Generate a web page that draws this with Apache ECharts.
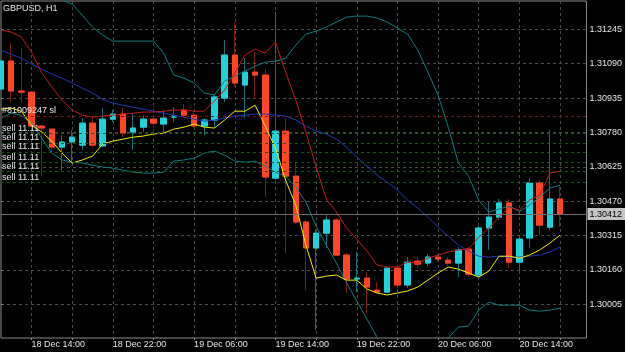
<!DOCTYPE html>
<html>
<head>
<meta charset="utf-8">
<title>GBPUSD, H1</title>
<script src="https://cdn.jsdelivr.net/npm/echarts@6.0.0/dist/echarts.min.js"></script>
<style>
  html, body { margin: 0; padding: 0; background: #000; }
  #chart { width: 625px; height: 352px; }
</style>
</head>
<body>
<div id="chart"></div>
<script>
// H1 bars, index 0 = 18 Dec 11:00 ... index 55 = 20 Dec 18:00
const opens = [1.30976, 1.31102, 1.30967, 1.30962, 1.30809, 1.30795, 1.30714, 1.30737, 1.30723, 1.30822,
  1.30719, 1.30840, 1.30863, 1.30782, 1.30804, 1.30840, 1.30818, 1.30849, 1.30881, 1.30858,
  1.30809, 1.30836, 1.30935, 1.31129, 1.30994, 1.31052, 1.31039, 1.30574, 1.30786, 1.30583,
  1.30376, 1.30259, 1.30326, 1.30385, 1.30227, 1.30119, 1.30123, 1.30069, 1.30060, 1.30168,
  1.30092, 1.30200, 1.30191, 1.30218, 1.30204, 1.30191, 1.30254, 1.30137, 1.30349, 1.30398,
  1.30462, 1.30195, 1.30304, 1.30552, 1.30353, 1.30480];
const closes = [1.31102, 1.30967, 1.30962, 1.30809, 1.30800, 1.30714, 1.30737, 1.30759, 1.30822, 1.30723,
  1.30840, 1.30863, 1.30777, 1.30800, 1.30840, 1.30822, 1.30845, 1.30854, 1.30858, 1.30809,
  1.30836, 1.30940, 1.31129, 1.31003, 1.31052, 1.31039, 1.30579, 1.30786, 1.30583, 1.30376,
  1.30259, 1.30326, 1.30385, 1.30227, 1.30119, 1.30123, 1.30083, 1.30060, 1.30168, 1.30092,
  1.30195, 1.30186, 1.30218, 1.30209, 1.30191, 1.30250, 1.30141, 1.30349, 1.30398, 1.30462,
  1.30195, 1.30299, 1.30552, 1.30362, 1.30480, 1.30412];
const lows = [1.30971, 1.30917, 1.30913, 1.30782, 1.30583, 1.30692, 1.30610, 1.30642, 1.30701, 1.30714,
  1.30714, 1.30827, 1.30759, 1.30701, 1.30782, 1.30777, 1.30782, 1.30827, 1.30849, 1.30800,
  1.30768, 1.30800, 1.30917, 1.30985, 1.30845, 1.30935, 1.30489, 1.30565, 1.30236, 1.30367,
  1.30069, 1.29889, 1.30259, 1.30222, 1.30056, 1.30060, 1.29965, 1.30056, 1.30056, 1.30078,
  1.30078, 1.30168, 1.30177, 1.30195, 1.30177, 1.30128, 1.30132, 1.30128, 1.30250, 1.30385,
  1.30168, 1.30159, 1.30259, 1.30317, 1.30340, 1.30353];
const highs = [1.31106, 1.31183, 1.31161, 1.30967, 1.30813, 1.30800, 1.30768, 1.30791, 1.30845, 1.30849,
  1.30890, 1.30881, 1.30890, 1.30867, 1.30858, 1.30858, 1.30881, 1.30894, 1.30908, 1.30867,
  1.30845, 1.30949, 1.31197, 1.31278, 1.31115, 1.31143, 1.31066, 1.31323, 1.30845, 1.30646,
  1.30385, 1.30344, 1.30407, 1.30394, 1.30236, 1.30241, 1.30150, 1.30105, 1.30177, 1.30182,
  1.30218, 1.30222, 1.30232, 1.30232, 1.30218, 1.30263, 1.30263, 1.30358, 1.30466, 1.30480,
  1.30480, 1.30313, 1.30574, 1.30565, 1.30791, 1.30538];

// indicators
const maRed = [1.31242, 1.31233, 1.31210, 1.31143, 1.31048, 1.30985, 1.30926, 1.30881, 1.30858, 1.30849,
  1.30854, 1.30858, 1.30863, 1.30867, 1.30872, 1.30872, 1.30876, 1.30881, 1.30881, 1.30876,
  1.30876, 1.30922, 1.30971, 1.31048, 1.31129, 1.31156, 1.31138, 1.31188, 1.31052, 1.30926,
  1.30782, 1.30624, 1.30480, 1.30421, 1.30349, 1.30299, 1.30245, 1.30182, 1.30173, 1.30173,
  1.30195, 1.30191, 1.30213, 1.30227, 1.30241, 1.30250, 1.30254, 1.30308, 1.30349, 1.30398,
  1.30443, 1.30430, 1.30475, 1.30498, 1.30597, 1.30606];
const bbMiddle = [1.31151, 1.31133, 1.31115, 1.31088, 1.31066, 1.31043, 1.31025, 1.31003, 1.30980, 1.30958,
  1.30930, 1.30913, 1.30903, 1.30894, 1.30885, 1.30876, 1.30867, 1.30858, 1.30849, 1.30840,
  1.30831, 1.30836, 1.30845, 1.30854, 1.30858, 1.30863, 1.30863, 1.30858, 1.30854, 1.30836,
  1.30809, 1.30786, 1.30773, 1.30750, 1.30714, 1.30669, 1.30628, 1.30588, 1.30556, 1.30520,
  1.30475, 1.30439, 1.30398, 1.30353, 1.30313, 1.30272, 1.30245, 1.30222, 1.30218, 1.30222,
  1.30218, 1.30218, 1.30222, 1.30227, 1.30241, 1.30263];
const bbUpper = [1.31440, 1.31436, 1.31431, 1.31422, 1.31413, 1.31400, 1.31377, 1.31359, 1.31309, 1.31255,
  1.31219, 1.31192, 1.31192, 1.31192, 1.31192, 1.31192, 1.31138, 1.31039, 1.31025, 1.31003,
  1.30958, 1.30949, 1.31012, 1.31034, 1.31057, 1.31079, 1.31097, 1.31102, 1.31115, 1.31174,
  1.31224, 1.31237, 1.31255, 1.31278, 1.31300, 1.31305, 1.31305, 1.31296, 1.31278, 1.31251,
  1.31224, 1.31152, 1.31052, 1.30949, 1.30804, 1.30642, 1.30583, 1.30475, 1.30421, 1.30434,
  1.30448, 1.30425, 1.30452, 1.30489, 1.30529, 1.30543];
const bbLower = [1.30845, 1.30867, 1.30858, 1.30822, 1.30755, 1.30687, 1.30656, 1.30646, 1.30642, 1.30633,
  1.30624, 1.30619, 1.30610, 1.30601, 1.30597, 1.30597, 1.30601, 1.30651, 1.30656, 1.30664,
  1.30687, 1.30696, 1.30678, 1.30651, 1.30646, 1.30651, 1.30628, 1.30601, 1.30583, 1.30534,
  1.30466, 1.30358, 1.30272, 1.30191, 1.30101, 1.30020, 1.29938, 1.29857, 1.29790, 1.29753,
  1.29735, 1.29744, 1.29762, 1.29799, 1.29853, 1.29902, 1.29907, 1.29979, 1.30015, 1.30001,
  1.30001, 1.30001, 1.29979, 1.29974, 1.29979, 1.29988];
const maYellow = [1.30885, 1.30890, 1.30876, 1.30813, 1.30782, 1.30741, 1.30687, 1.30642, 1.30656, 1.30673,
  1.30728, 1.30741, 1.30750, 1.30759, 1.30764, 1.30773, 1.30777, 1.30795, 1.30804, 1.30818,
  1.30804, 1.30800, 1.30836, 1.30876, 1.30876, 1.30903, 1.30809, 1.30710, 1.30565, 1.30452,
  1.30272, 1.30123, 1.30132, 1.30137, 1.30114, 1.30114, 1.30074, 1.30056, 1.30047, 1.30056,
  1.30065, 1.30083, 1.30114, 1.30146, 1.30173, 1.30164, 1.30146, 1.30128, 1.30155, 1.30222,
  1.30222, 1.30213, 1.30227, 1.30250, 1.30281, 1.30317];

// axes
const priceTicks = [1.30005, 1.30160, 1.30315, 1.30470, 1.30625, 1.30780, 1.30935, 1.31090, 1.31245];
const gridBars = [3, 7, 11, 15, 19, 23, 27, 31, 35, 39, 43, 47, 51, 55];
const labelBars = [3, 11, 19, 27, 35, 43, 51];
const timeLabels = ['18 Dec 14:00', '18 Dec 22:00', '19 Dec 06:00', '19 Dec 14:00',
  '19 Dec 22:00', '20 Dec 06:00', '20 Dec 14:00'];

// order lines
const slPrice = 1.30854;
const sellPrices = [1.30775, 1.30733, 1.30693, 1.30644, 1.30603, 1.30554];
const lastPrice = 1.30412;

const FONT = '"Liberation Sans", Arial, sans-serif';
const TXT = '#e6e6e6';

let myChart = echarts.init(document.getElementById('chart'));

const wicks = opens.map((o, i) => [i, o, closes[i], lows[i], highs[i]]);
const bodies = opens.map((o, i) => [i, o, closes[i], Math.min(o, closes[i]), Math.max(o, closes[i])]);

function lineSeries(name, arr, color) {
  return {
    name: name,
    type: 'line',
    data: arr.map((v, i) => [i, v]),
    showSymbol: false,
    symbol: 'none',
    lineStyle: { color: color, width: 1 },
    silent: true
  };
}

const orderLines = [
  {
    yAxis: slPrice,
    lineStyle: { color: '#8c0c0c', type: [3, 3], width: 1 },
    label: { show: true, position: 'insideStartTop', formatter: '#81009247 sl', distance: [1, 1] }
  }
].concat(sellPrices.map(p => ({
  yAxis: p,
  lineStyle: { color: '#0d5c0d', type: [3, 3], width: 1 },
  label: { show: true, position: 'insideStartTop', formatter: 'sell 11.11', distance: [1, 1] }
}))).concat([{
  yAxis: lastPrice,
  lineStyle: { color: '#707070', type: 'solid', width: 1 },
  label: {
    show: true, position: 'end', distance: 1,
    formatter: () => lastPrice.toFixed(5),
    color: '#000', backgroundColor: '#c4c4c4', padding: [2, 3, 1, 2]
  }
}]);

let option = {
  backgroundColor: '#000',
  animation: false,
  title: {
    text: 'GBPUSD, H1',
    left: 3, top: 4, padding: 0,
    textStyle: { color: TXT, fontSize: 9, fontWeight: 'normal', fontFamily: FONT }
  },
  grid: {
    left: 1, top: 1, right: 36, bottom: 14,
    show: true, borderColor: '#8a8a8a', borderWidth: 1, backgroundColor: 'transparent'
  },
  xAxis: {
    type: 'value',
    min: 0,
    max: 57.6,
    axisLine: { show: false },
    axisTick: { show: true, length: 2, customValues: gridBars, lineStyle: { color: '#8a8a8a' } },
    axisLabel: {
      customValues: labelBars,
      formatter: v => timeLabels[labelBars.indexOf(Math.round(v))],
      align: 'left', margin: 2,
      color: TXT, fontSize: 9, fontFamily: FONT
    },
    splitLine: { show: true, lineStyle: { color: '#4a4a4a', type: [3, 3], width: 1 } }
  },
  yAxis: {
    type: 'value',
    position: 'right',
    min: 1.29853,
    max: 1.31373,
    axisLine: { show: false },
    axisTick: { show: true, length: 2, customValues: priceTicks, lineStyle: { color: '#8a8a8a' } },
    axisLabel: {
      customValues: priceTicks,
      formatter: v => v.toFixed(5),
      margin: 3,
      color: TXT, fontSize: 9, fontFamily: FONT
    },
    splitLine: { show: true, lineStyle: { color: '#4a4a4a', type: [3, 3], width: 1 } }
  },
  series: [
    {
      name: 'wicks',
      type: 'candlestick',
      data: wicks,
      encode: { x: 0, y: [1, 2, 3, 4] },
      barWidth: 6,
      silent: true,
      itemStyle: {
        color: '#167075', color0: '#7d1c10',
        borderColor: '#167075', borderColor0: '#7d1c10', borderWidth: 1
      }
    },
    {
      name: 'bodies',
      type: 'candlestick',
      data: bodies,
      encode: { x: 0, y: [1, 2, 3, 4] },
      barWidth: 6,
      silent: true,
      itemStyle: {
        color: '#1fd2dc', color0: '#ff4526',
        borderColor: '#1fd2dc', borderColor0: '#ff4526', borderWidth: 1
      }
    },
    lineSeries('BB upper', bbUpper, '#137c7e'),
    lineSeries('BB lower', bbLower, '#137c7e'),
    lineSeries('BB middle', bbMiddle, '#2038b8'),
    lineSeries('MA red', maRed, '#c41a1a'),
    lineSeries('MA yellow', maYellow, '#f2f000'),
    {
      name: 'orders',
      type: 'line',
      data: [],
      clip: false,
      markLine: {
        symbol: 'none',
        silent: true,
        animation: false,
        precision: 5,
        label: { color: TXT, fontSize: 9, fontFamily: FONT },
        data: orderLines
      }
    }
  ]
};
myChart.setOption(option);
</script>
</body>
</html>
